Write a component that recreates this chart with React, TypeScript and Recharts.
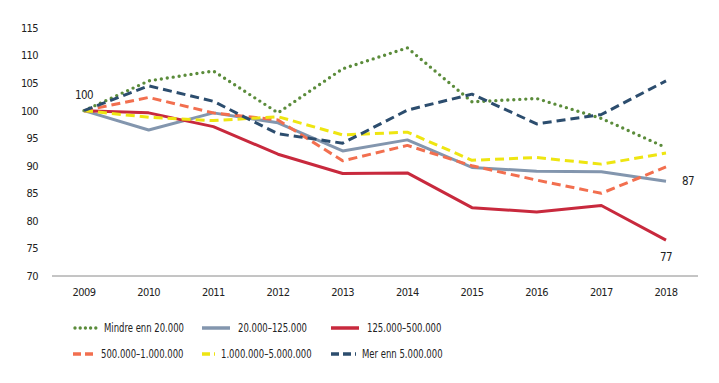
import React from "react";
import { LineChart, Line, XAxis, YAxis, LabelList } from "recharts";

const years = ["2009", "2010", "2011", "2012", "2013", "2014", "2015", "2016", "2017", "2018"];
const yTicks = [70, 75, 80, 85, 90, 95, 100, 105, 110, 115];

const under20k = [100, 105.4, 107.2, 99.6, 107.6, 111.4, 101.6, 102.2, 98.6, 93.3];
const from20kTo125k = [100, 96.5, 99.6, 97.8, 92.7, 94.7, 89.7, 89.0, 88.9, 87.2];
const from125kTo500k = [100, 99.6, 97.1, 92.1, 88.6, 88.7, 82.4, 81.6, 82.8, 76.5];
const from500kTo1m = [100, 102.4, 99.6, 98.3, 90.9, 93.7, 90.0, 87.4, 85.0, 89.8];
const from1mTo5m = [100, 98.8, 98.2, 98.9, 95.6, 96.1, 91.0, 91.5, 90.3, 92.3];
const over5m = [100, 104.5, 101.7, 95.8, 94.1, 100.1, 103.0, 97.6, 99.3, 105.4];

type SeriesDef = {
  key: string;
  name: string;
  color: string;
  dash?: string;
  width: number;
  round?: boolean;
};

const series: SeriesDef[] = [
  { key: "a", name: "Mindre enn 20.000", color: "#5b8c3b", dash: "0 6", width: 3.4, round: true },
  { key: "b", name: "20.000–125.000", color: "#8396ae", width: 3 },
  { key: "c", name: "125.000–500.000", color: "#c8293d", width: 3 },
  { key: "d", name: "500.000–1.000.000", color: "#f26f4f", dash: "9 5", width: 3 },
  { key: "e", name: "1.000.000–5.000.000", color: "#eee511", dash: "9 5", width: 3 },
  { key: "f", name: "Mer enn 5.000.000", color: "#2c4d6e", dash: "9 5", width: 3 },
];

const data = years.map((year, i) => ({
  year,
  a: under20k[i],
  b: from20kTo125k[i],
  c: from125kTo500k[i],
  d: from500kTo1m[i],
  e: from1mTo5m[i],
  f: over5m[i],
}));

const FONT = "'Liberation Sans Narrow', 'DejaVu Sans Condensed', Lato, sans-serif";
const tickStyle = { fontSize: 11, fontFamily: FONT, fill: "#222", letterSpacing: -0.6 };

// labels only at one index
const pointLabel = (index: number, dx: number, dy: number, anchor: string) => (props: any) => {
  if (props.index !== index) return null;
  return (
    <text
      x={props.x + dx}
      y={props.y + dy}
      textAnchor={anchor}
      dominantBaseline="central"
      fontSize={11.5}
      letterSpacing={-0.5}
      fontFamily={FONT}
      fill="#222"
    >
      {Math.round(props.value)}
    </text>
  );
};

function LegendIcon({ s }: { s: SeriesDef }) {
  return (
    <svg width={30} height={8} style={{ display: "block" }}>
      <line
        x1={s.round ? 2 : 0}
        y1={4}
        x2={28}
        y2={4}
        stroke={s.color}
        strokeWidth={s.round ? 3.4 : 3.5}
        strokeDasharray={s.dash ? (s.round ? "0 5.2" : "8 4") : undefined}
        strokeLinecap={s.round ? "round" : "butt"}
      />
    </svg>
  );
}

export default function App() {
  return (
    <div style={{ position: "relative", margin: -8, width: 719, height: 383, background: "#fff" }}>
      <LineChart width={719} height={383} data={data} margin={{ top: 28, right: 21, bottom: 77, left: 0 }}>
        <XAxis
          dataKey="year"
          height={30}
          padding={{ left: 32, right: 32 }}
          tickLine={false}
          tickSize={0}
          tickMargin={12}
          axisLine={{ stroke: "#8a8a8a", strokeWidth: 1 }}
          tick={tickStyle}
          interval={0}
        />
        <YAxis
          width={52}
          domain={[70, 115]}
          ticks={yTicks}
          axisLine={false}
          tickLine={false}
          tickSize={0}
          tickMargin={14}
          tick={tickStyle}
        />
        {series.map((s) => (
          <Line
            key={s.key}
            dataKey={s.key}
            name={s.name}
            type="linear"
            stroke={s.color}
            strokeWidth={s.width}
            strokeDasharray={s.dash}
            strokeLinecap={s.round ? "round" : "butt"}
            strokeLinejoin="round"
            dot={false}
            activeDot={false}
            isAnimationActive={false}
          >
            {s.key === "a" && <LabelList dataKey="a" content={pointLabel(0, 0, -16, "middle")} />}
            {s.key === "b" && <LabelList dataKey="b" content={pointLabel(9, 16, 0, "start")} />}
            {s.key === "c" && <LabelList dataKey="c" content={pointLabel(9, 0, 17, "middle")} />}
          </Line>
        ))}
      </LineChart>
      <div
        style={{
          position: "absolute",
          left: 73,
          top: 320,
          display: "grid",
          gridTemplateColumns: "129px 129px 129px",
          rowGap: 10,
          fontFamily: FONT,
          fontSize: 11.5,
          color: "#222",
        }}
      >
        {series.map((s) => (
          <div key={s.key} style={{ display: "flex", alignItems: "center", height: 16 }}>
            <LegendIcon s={s} />
            <span
              style={{
                marginLeft: 6,
                whiteSpace: "nowrap",
                display: "inline-block",
                transform: "scaleX(0.82)",
                transformOrigin: "left center",
              }}
            >
              {s.name}
            </span>
          </div>
        ))}
      </div>
    </div>
  );
}
